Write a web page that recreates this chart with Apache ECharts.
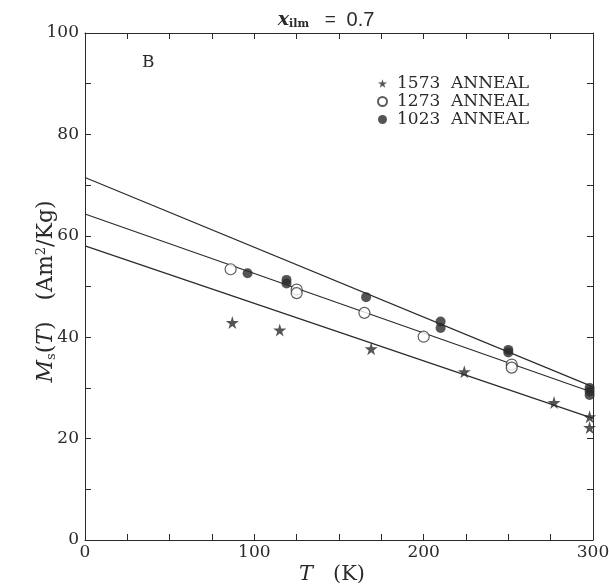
<!DOCTYPE html>
<html>
<head>
<meta charset="utf-8">
<script src="https://cdn.jsdelivr.net/npm/echarts@6/dist/echarts.min.js"></script>
<style>html,body{margin:0;padding:0;background:#fff}#c{width:609px;height:588px}</style>
</head>
<body>
<div id="c"></div>
<script>
// ---- data ----
var temp1573 = [87, 115, 169, 224, 277, 298, 298];
var ms1573   = [42.9, 41.4, 37.7, 33.2, 27.1, 24.3, 22.2];
var temp1273 = [86, 125, 125, 165, 200, 252, 252];
var ms1273   = [53.4, 49.4, 48.7, 44.8, 40.1, 34.6, 34.0];
var temp1023 = [96, 119, 119, 166, 210, 210, 250, 250, 298, 298, 298];
var ms1023   = [52.6, 51.3, 50.6, 47.9, 43.1, 41.8, 37.5, 37.0, 30.0, 29.3, 28.6];
var fitT     = [0, 300];
var fit1023  = [71.5, 30.2];
var fit1273  = [64.3, 29.1];
var fit1573  = [58.0, 24.0];
var seriesNames = ['1573  ANNEAL', '1273  ANNEAL', '1023  ANNEAL'];
var xTickLabels = [0, 100, 200, 300];
var yTickLabels = [0, 20, 40, 60, 80, 100];

function zip(a, b) { return a.map(function (v, i) { return [v, b[i]]; }); }

var FONT = 'DejaVu Serif';
var INK = '#2a2a2a';
var STAR = 'path://M50,0 L61,35 L98,35 L68,57 L79,91 L50,70 L21,91 L32,57 L2,35 L39,35 Z';

function axisBase(extra) {
  var o = {
    axisLine: { show: true, onZero: false, lineStyle: { color: INK, width: 1 } },
    axisTick: { show: true, inside: true, length: 6, lineStyle: { color: INK, width: 1 } },
    splitLine: { show: false }
  };
  for (var k in extra) o[k] = extra[k];
  return o;
}

var chart = echarts.init(document.getElementById('c'));
chart.setOption({
  backgroundColor: '#fff',
  animation: false,
  grid: { left: 85, right: 16, top: 33, bottom: 48, outerBoundsMode: 'none', containLabel: false },
  title: {
    text: '{i|x}{s|ilm}{n|   =  }{v|0.7}',
    left: 321, top: 5, textAlign: 'center',
    textStyle: {
      fontWeight: 'normal',
      rich: {
        i: { fontFamily: FONT, fontStyle: 'italic', fontWeight: 'bold', fontSize: 19, color: INK },
        s: { fontFamily: FONT, fontWeight: 'bold', fontSize: 11, color: INK, padding: [9, 0, 0, 0] },
        n: { fontFamily: 'Liberation Sans', fontWeight: 'normal', fontSize: 19, color: INK },
        v: { fontFamily: 'Liberation Sans', fontWeight: 'normal', fontSize: 20, color: INK }
      }
    }
  },
  legend: {
    data: seriesNames,
    orient: 'vertical',
    left: 372, top: 70,
    itemWidth: 9, itemHeight: 9, itemGap: 1,
    textStyle: { fontFamily: FONT, fontSize: 17, color: INK, padding: [0, 0, 0, 5] }
  },
  xAxis: [
    axisBase({
      type: 'value', min: 0, max: 300, interval: 25, position: 'bottom',
      axisLabel: {
        fontFamily: FONT, fontSize: 17, color: INK, margin: 4,
        formatter: function (v) { return xTickLabels.indexOf(v) >= 0 ? String(v) : ''; }
      },
      name: '{i|T}{n|   (K)}', nameLocation: 'middle', nameGap: 24, nameMoveOverlap: false,
      nameTextStyle: {
        padding: [0, 14, 0, 0],
        rich: {
          i: { fontFamily: FONT, fontStyle: 'italic', fontSize: 21, color: INK },
          n: { fontFamily: FONT, fontSize: 21, color: INK }
        }
      }
    }),
    axisBase({
      type: 'value', min: 0, max: 300, interval: 25, position: 'top',
      axisLabel: { show: false }
    })
  ],
  yAxis: [
    axisBase({
      type: 'value', min: 0, max: 100, interval: 10, position: 'left',
      axisLabel: {
        fontFamily: FONT, fontSize: 17, color: INK, margin: 6,
        formatter: function (v) { return yTickLabels.indexOf(v) >= 0 ? String(v) : ''; }
      },
      name: '{i|M}{s|s}{n|(}{i|T}{n|)   (Am}{p|2}{n|/Kg)}',
      nameLocation: 'middle', nameRotate: 90, nameGap: 27, nameMoveOverlap: false,
      nameTextStyle: {
        padding: [0, 10, 0, 0],
        rich: {
          i: { fontFamily: FONT, fontStyle: 'italic', fontSize: 22, color: INK },
          s: { fontFamily: FONT, fontSize: 13, color: INK, padding: [10, 0, 0, 0] },
          p: { fontFamily: FONT, fontSize: 13, color: INK, padding: [0, 0, 10, 0] },
          n: { fontFamily: FONT, fontSize: 22, color: INK }
        }
      }
    }),
    axisBase({
      type: 'value', min: 0, max: 100, interval: 10, position: 'right',
      axisLabel: { show: false }
    })
  ],
  graphic: [{
    type: 'text', left: 142, top: 54,
    style: { text: 'B', fontFamily: FONT, fontSize: 17, fill: INK }
  }],
  series: [
    { type: 'line', data: zip(fitT, fit1023), symbol: 'none', lineStyle: { color: INK, width: 1.2 }, silent: true, z: 1 },
    { type: 'line', data: zip(fitT, fit1273), symbol: 'none', lineStyle: { color: INK, width: 1.2 }, silent: true, z: 1 },
    { type: 'line', data: zip(fitT, fit1573), symbol: 'none', lineStyle: { color: INK, width: 1.2 }, silent: true, z: 1 },
    { name: seriesNames[0], type: 'scatter', data: zip(temp1573, ms1573), symbol: STAR, symbolSize: 13,
      itemStyle: { color: INK }, z: 3 },
    { name: seriesNames[1], type: 'scatter', data: zip(temp1273, ms1273), symbol: 'circle', symbolSize: 11,
      itemStyle: { color: '#fff', borderColor: '#333', borderWidth: 1.2 }, z: 3 },
    { name: seriesNames[2], type: 'scatter', data: zip(temp1023, ms1023), symbol: 'circle', symbolSize: 10,
      itemStyle: { color: INK }, z: 4 }
  ]
});
</script>
</body>
</html>
